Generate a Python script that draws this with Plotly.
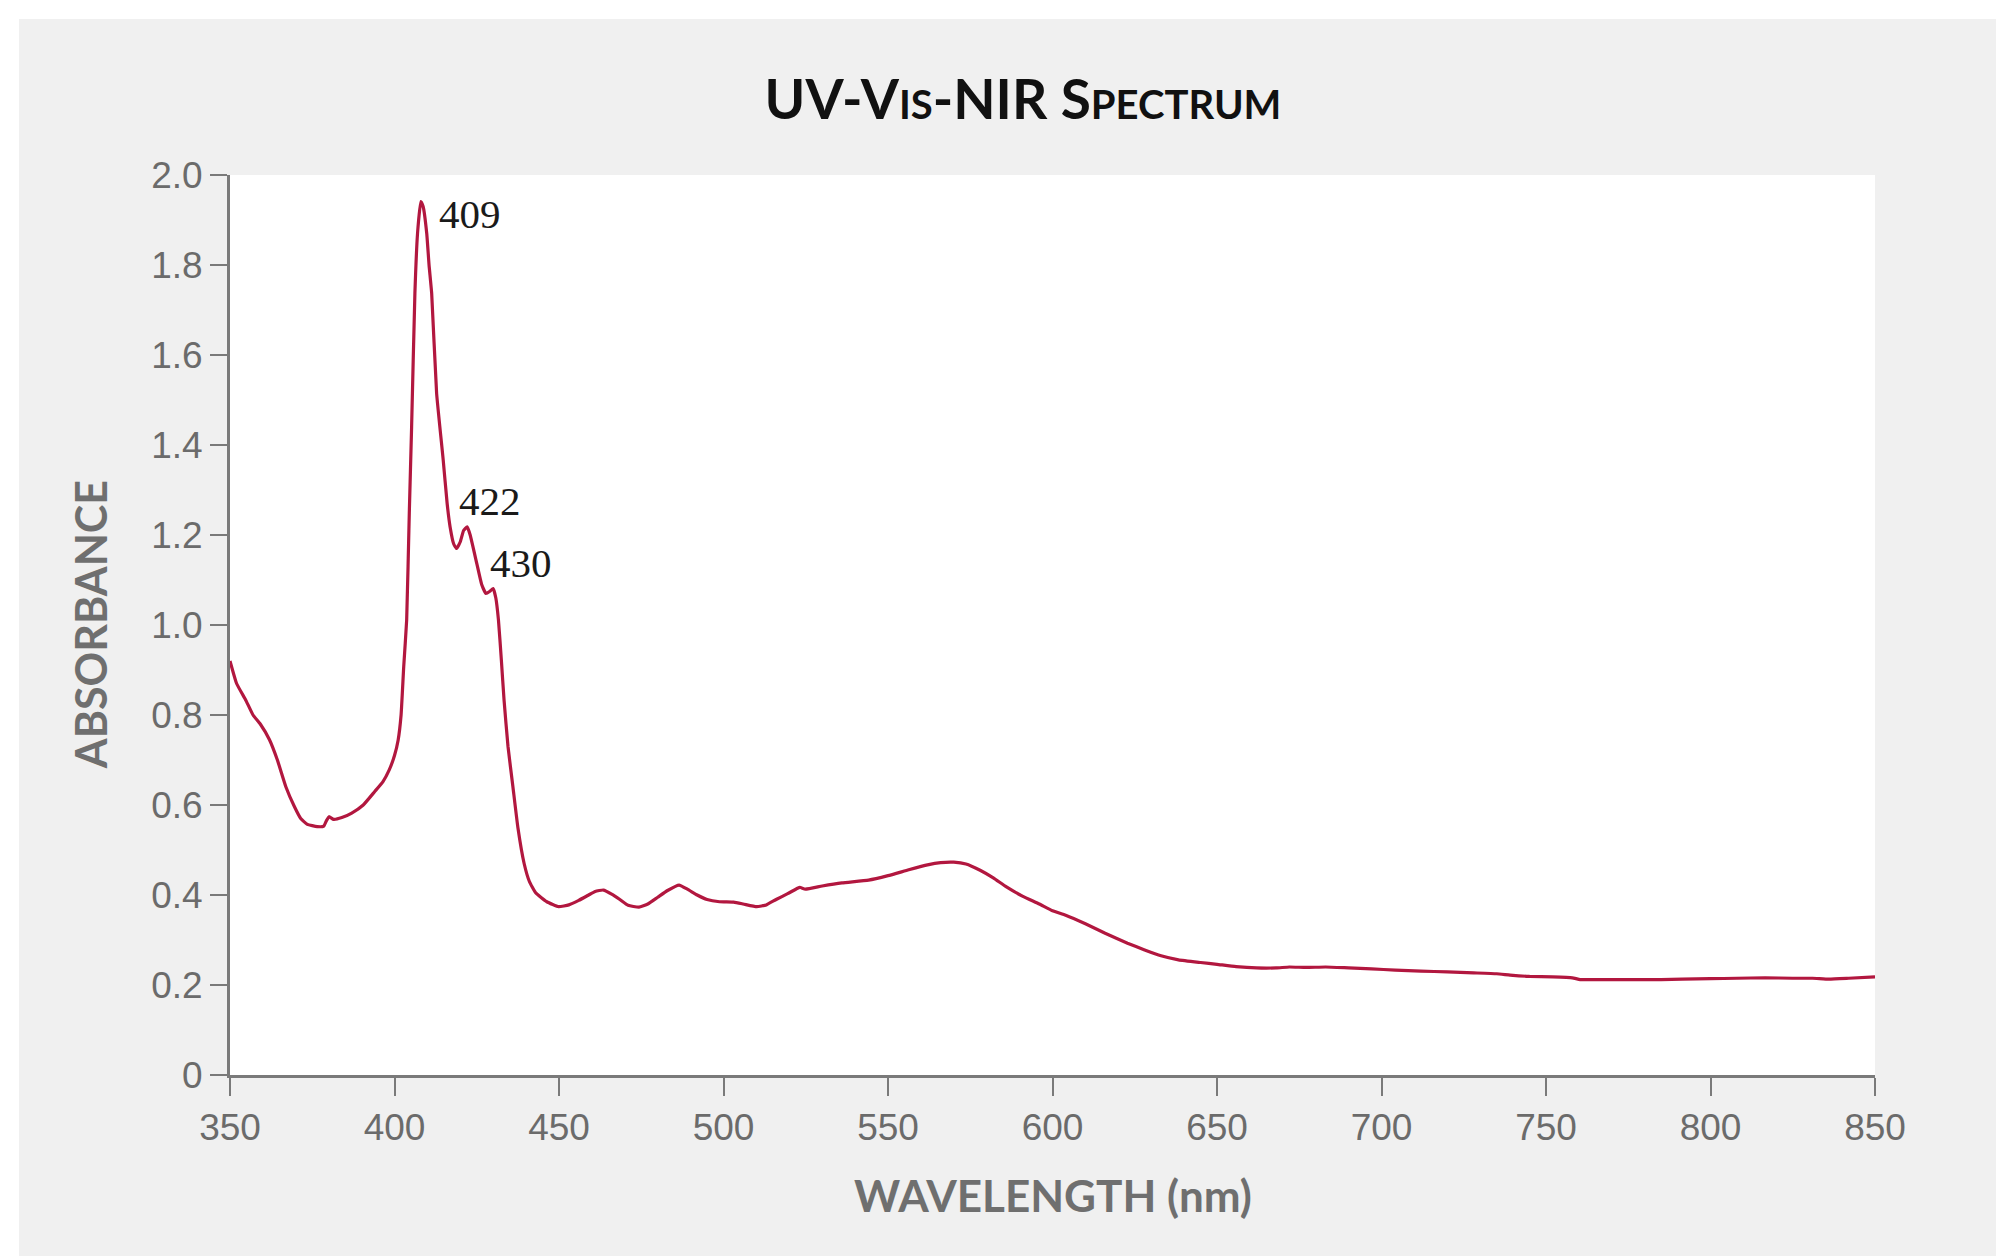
import plotly.graph_objects as go

# ---- data ----
wavelength = [
    350, 352, 354.8, 357, 359.2, 362, 364.4, 367, 369.6, 371.5, 373.5, 376.5, 378.5, 379.3, 380.1,
    381.5, 384, 387, 390.5, 394, 396.5, 398.4, 400, 401.1, 402, 402.8, 403.7, 404.5, 405.2, 406.2,
    407, 408, 408.7, 409.8, 410.5, 411.3, 412.8, 414.8, 416, 416.9, 418, 418.9, 420, 421, 422.1,
    423, 425, 426.5, 427.8, 429, 430, 430.8, 431.6, 432.5, 433.3, 434.5, 436, 437.5, 439.4, 441,
    442.9, 446.3, 449.9, 453, 456, 459, 461, 463.5, 466, 468.5, 471, 474.3, 477, 480, 483,
    486.5, 489, 492, 495, 498.8, 503.1, 506, 510.1, 513, 516, 519.5, 522.5, 523.2, 524.9, 530,
    536, 544.1, 550, 556.3, 562, 566, 570, 573.7, 578, 582, 586, 591, 596, 600, 604,
    610, 616, 622.8, 628, 633, 638.3, 645, 650, 655.8, 662, 668, 672, 677, 683, 690,
    697, 704.2, 712, 720, 728, 735, 739.1, 745, 752, 758, 760.4, 766, 775, 785, 791.4,
    800, 808, 816.6, 825, 831, 836, 842, 850,
]
absorbance = [
    0.92, 0.87, 0.833, 0.80, 0.78, 0.745, 0.70, 0.64, 0.596, 0.57, 0.557, 0.552, 0.553, 0.565, 0.574,
    0.568, 0.572, 0.582, 0.60, 0.63, 0.652, 0.678, 0.71, 0.744, 0.80, 0.907, 1.011, 1.25, 1.44, 1.737,
    1.87, 1.941, 1.93, 1.87, 1.80, 1.737, 1.515, 1.367, 1.27, 1.218, 1.18, 1.17, 1.185, 1.21, 1.218,
    1.20, 1.137, 1.09, 1.07, 1.075, 1.081, 1.06, 1.011, 0.92, 0.833, 0.73, 0.64, 0.55, 0.47, 0.43,
    0.405, 0.385, 0.374, 0.378, 0.388, 0.40, 0.408, 0.411, 0.402, 0.39, 0.377, 0.373, 0.38, 0.395, 0.41,
    0.422, 0.413, 0.40, 0.39, 0.385, 0.384, 0.38, 0.374, 0.378, 0.39, 0.403, 0.415, 0.417, 0.413, 0.42,
    0.427, 0.433, 0.443, 0.456, 0.467, 0.472, 0.473, 0.469, 0.455, 0.438, 0.418, 0.397, 0.38, 0.365, 0.355,
    0.336, 0.315, 0.293, 0.278, 0.265, 0.256, 0.25, 0.246, 0.241, 0.238, 0.238, 0.24, 0.239, 0.24, 0.238,
    0.236, 0.233, 0.231, 0.229, 0.227, 0.225, 0.222, 0.219, 0.218, 0.216, 0.212, 0.212, 0.212, 0.212, 0.213,
    0.214, 0.215, 0.216, 0.215, 0.215, 0.213, 0.215, 0.218,
]

peak_labels = ["409", "422", "430"]
peak_x = [408.0, 422.1, 430.0]
peak_y = [1.941, 1.218, 1.081]

x_tickvals = [350, 400, 450, 500, 550, 600, 650, 700, 750, 800, 850]
x_ticktext = ["350", "400", "450", "500", "550", "600", "650", "700", "750", "800", "850"]
y_tickvals = [0, 0.2, 0.4, 0.6, 0.8, 1.0, 1.2, 1.4, 1.6, 1.8, 2.0]
y_ticktext = ["0", "0.2", "0.4", "0.6", "0.8", "1.0", "1.2", "1.4", "1.6", "1.8", "2.0"]

# ---- styling ----
LINE_COLOR = "#b2173f"
AXIS_COLOR = "#7a7a7a"
TICK_FONT_COLOR = "#6b6b6b"
TITLE_GRAY = "#6f6f6f"
PANEL = "#f0f0f0"

fig = go.Figure()
fig.add_trace(go.Scatter(
    x=wavelength, y=absorbance, mode="lines",
    line=dict(color=LINE_COLOR, width=3.2, shape="spline", smoothing=0.4),
    showlegend=False, hoverinfo="x+y",
))

label_shifts = [(16, -12), (-10, 26), (-5, 26)]
for lab, px, py, (dx, dy) in zip(peak_labels, peak_x, peak_y, label_shifts):
    fig.add_annotation(
        x=px, y=py, xref="x", yref="y", text=lab, showarrow=False,
        xanchor="left", yanchor="middle", xshift=dx, yshift=dy,
        font=dict(family="Liberation Serif", size=41, color="#1a1a1a"),
    )

# axis titles
fig.add_annotation(
    x=0.5, y=-0.133, xref="paper", yref="paper", text="<b>WAVELENGTH (nm)</b>",
    showarrow=False, xanchor="center", yanchor="middle",
    font=dict(family="Lato", size=44, color=TITLE_GRAY),
)
fig.add_annotation(
    x=-0.085, y=0.5, xref="paper", yref="paper", text="<b>ABSORBANCE</b>",
    showarrow=False, xanchor="center", yanchor="middle", textangle=-90,
    font=dict(family="Lato", size=43, color=TITLE_GRAY),
)

# white frame strips around the grey panel (top and left)
fig.add_shape(type="rect", xref="paper", yref="paper", x0=-0.136, x1=1.09, y0=1.1733, y1=1.19,
              fillcolor="white", line=dict(width=0), layer="above")
fig.add_shape(type="rect", xref="paper", yref="paper", x0=-0.136, x1=-0.1283, y0=-0.25, y1=1.19,
              fillcolor="white", line=dict(width=0), layer="above")

fig.update_layout(
    width=2004, height=1256,
    margin=dict(l=222, r=137, t=167, b=189),
    paper_bgcolor=PANEL, plot_bgcolor="white",
    title=dict(
        text="<b>UV-V<span style='font-size:40px'>IS</span>-NIR S<span style='font-size:40px'>PECTRUM</span></b>",
        x=0.5065, y=0.9268, xanchor="center", yanchor="middle",
        font=dict(family="Lato", size=55, color="#111111"),
    ),
    xaxis=dict(
        range=[350, 850], tickvals=x_tickvals, ticktext=x_ticktext,
        showline=True, linecolor=AXIS_COLOR, linewidth=3, mirror=False,
        ticks="outside", ticklen=18, tickwidth=2, tickcolor=AXIS_COLOR,
        showgrid=False, zeroline=False,
        tickfont=dict(family="Liberation Sans", size=37, color=TICK_FONT_COLOR),
    ),
    yaxis=dict(
        range=[0, 2.0], tickvals=y_tickvals, ticktext=y_ticktext,
        showline=True, linecolor=AXIS_COLOR, linewidth=3, mirror=False,
        ticks="outside", ticklen=17, tickwidth=2, tickcolor=AXIS_COLOR,
        showgrid=False, zeroline=False,
        tickfont=dict(family="Liberation Sans", size=37, color=TICK_FONT_COLOR),
    ),
)

fig.write_html("out.html")
